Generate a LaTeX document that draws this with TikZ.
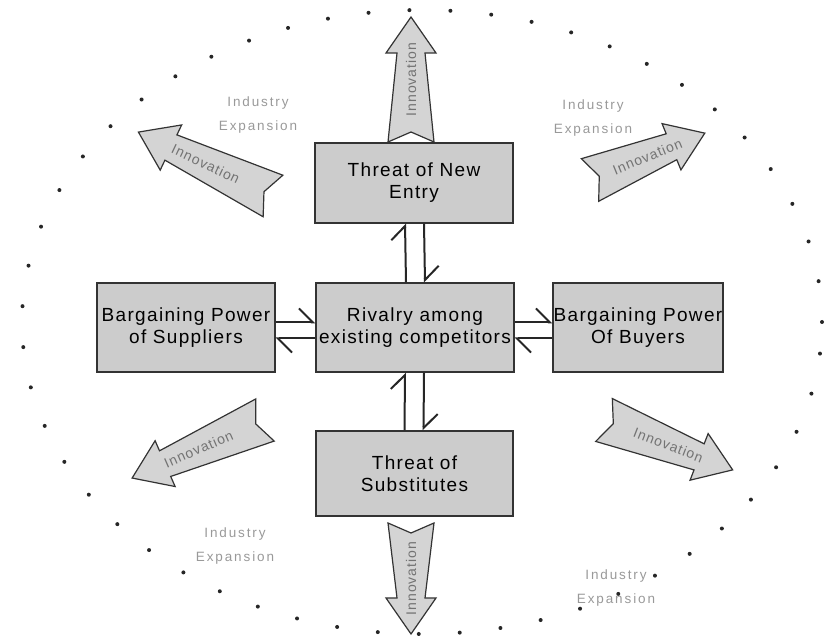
\documentclass[tikz,border=0pt]{standalone}
\usepackage{fontspec}
\setmainfont{Liberation Sans}
\usetikzlibrary{arrows.meta}

\tikzset{
  force/.style={draw=black!80, fill=black!20, line width=1.2pt, inner sep=0pt, align=center, font=\fontsize{19}{22}\selectfont\addfontfeatures{LetterSpace=7}},
  harp/.style={line width=2pt, draw=black!85, -{Straight Barb[harpoon, length=14pt, width=28pt]}},
  innobody/.style={draw=black!80, fill=black!17, line width=1.2pt, line join=miter},
  innotext/.style={text=black!55, font=\fontsize{14}{16}\selectfont\addfontfeatures{LetterSpace=7}, inner sep=0pt},
  expand/.style={text=black!40, align=center, font=\fontsize{13.5}{24}\selectfont\addfontfeatures{LetterSpace=14}},
  rimdots/.style={draw=black!85, line width=4pt, line cap=round, dash pattern=on 0pt off 41pt},
}
% name, tail point, angle, length, text angle
\newcommand\innoarrow[5]{%
  \begin{scope}[shift={#2}, rotate=#3]
    \draw[innobody] (0,23) -- ({#4-36},14) -- ({#4-36},25) -- (#4,0) -- ({#4-36},-25) -- ({#4-36},-14) -- (0,-23) -- (10,0) -- cycle;
    \node[innotext, rotate=#5] (#1) at ({#4/2},0) {Innovation};
  \end{scope}}

\begin{document}
\begin{tikzpicture}[x=1pt, y=1pt]
\useasboundingbox (0,0) rectangle (826,639);
\draw[rimdots] (422,317) ellipse [x radius=400, y radius=312];

% the five forces
\node[force, minimum width=198pt, minimum height=89pt] (rivalry) at (415,311.5) {Rivalry among\\existing competitors};
\node[force, minimum width=178pt, minimum height=89pt] (suppliers) at (186,311.5) {Bargaining Power\\of Suppliers};
\node[force, minimum width=170pt, minimum height=89pt] (buyers) at (638,311.5) {Bargaining Power\\Of Buyers};
\node[force, minimum width=198pt, minimum height=80pt] (entry) at (414,456) {Threat of New\\Entry};
\node[force, minimum width=197pt, minimum height=85pt] (subst) at (414.5,165.5) {Threat of\\Substitutes};

\draw[harp] ([xshift=-9pt]rivalry.north) -- ([xshift=-9pt]entry.south);
\draw[harp] ([xshift=10pt]entry.south) -- ([xshift=10pt]rivalry.north);
\draw[harp] ([xshift=-10pt]subst.north) -- ([xshift=-10pt]rivalry.south);
\draw[harp] ([xshift=9pt]rivalry.south) -- ([xshift=9pt]subst.north);
\draw[harp] ([yshift=5pt]suppliers.east) -- ([yshift=5pt]rivalry.west);
\draw[harp] ([yshift=-11pt]rivalry.west) -- ([yshift=-11pt]suppliers.east);
\draw[harp] ([yshift=5pt]rivalry.east) -- ([yshift=5pt]buyers.west);
\draw[harp] ([yshift=-11pt]buyers.west) -- ([yshift=-11pt]rivalry.east);

% innovation arrows
\innoarrow{innoN}{(411,497)}{90}{125}{90}
\innoarrow{innoS}{(411,116)}{-90}{111}{90}
\innoarrow{innoNW}{(273,443)}{154.6}{149}{-25.4}
\innoarrow{innoNE}{(590,459)}{22.2}{124}{22.2}
\innoarrow{innoSW}{(265,219)}{203.6}{145}{23.6}
\innoarrow{innoSE}{(604,219)}{-21.2}{138}{-21.2}

% industry expansion
\node[expand] (expNW) at (258,524) {Industry\\Expansion};
\node[expand] (expNE) at (593,521) {Industry\\Expansion};
\node[expand] (expSW) at (235,93) {Industry\\Expansion};
\node[expand] (expSE) at (616,51) {Industry\\Expansion};
\end{tikzpicture}
\end{document}
